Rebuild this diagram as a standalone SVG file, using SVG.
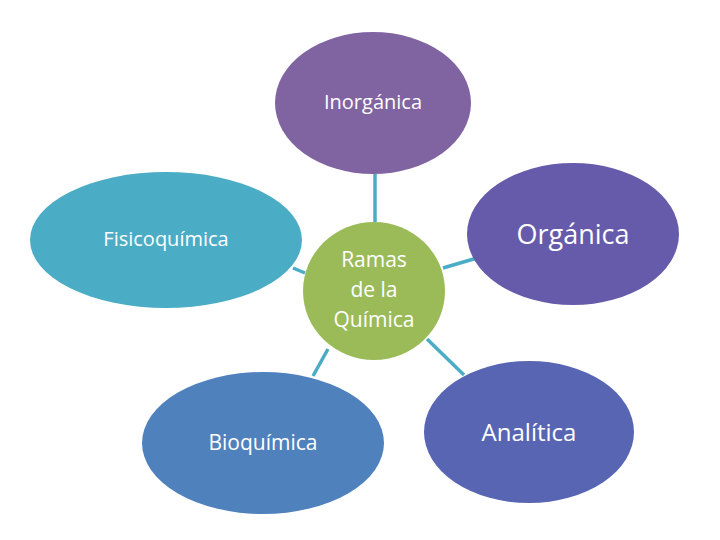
<svg xmlns="http://www.w3.org/2000/svg" width="720" height="540" viewBox="0 0 720 540">
<style>
text{font-family:"Open Sans","Liberation Sans",sans-serif;fill:#fff;text-anchor:middle}
.c line{stroke:#4BACC6;stroke-width:3.5}
</style>
<rect width="720" height="540" fill="#fff"/>
<g class="c" id="connectors">
<line x1="375" y1="174" x2="375" y2="222"/>
<line x1="293" y1="268" x2="305" y2="273"/>
<line x1="443" y1="268" x2="477" y2="258"/>
<line x1="328" y1="349" x2="313" y2="376"/>
<line x1="427" y1="339" x2="464" y2="375"/>
</g>
<g id="center"><ellipse cx="374" cy="291" rx="71" ry="69" fill="#9BBB59"/>
<text font-size="21"><tspan x="374" y="267">Ramas</tspan><tspan x="374" y="297">de la</tspan><tspan x="374" y="327">Química</tspan></text></g>
<g id="inorganica"><ellipse cx="373" cy="103" rx="98" ry="71" fill="#8064A2"/><text x="373" y="109" font-size="20">Inorgánica</text></g>
<g id="fisicoquimica"><ellipse cx="166" cy="240" rx="136" ry="68" fill="#4BACC6"/><text x="166" y="246" font-size="20">Fisicoquímica</text></g>
<g id="organica"><ellipse cx="573" cy="234" rx="106" ry="71" fill="#665BAA"/><text x="573" y="244" font-size="27">Orgánica</text></g>
<g id="bioquimica"><ellipse cx="263" cy="443" rx="121" ry="71" fill="#4F81BD"/><text x="263" y="450" font-size="21">Bioquímica</text></g>
<g id="analitica"><ellipse cx="529" cy="432" rx="105" ry="71" fill="#5865B2"/><text x="529" y="441" font-size="24">Analítica</text></g>
</svg>
